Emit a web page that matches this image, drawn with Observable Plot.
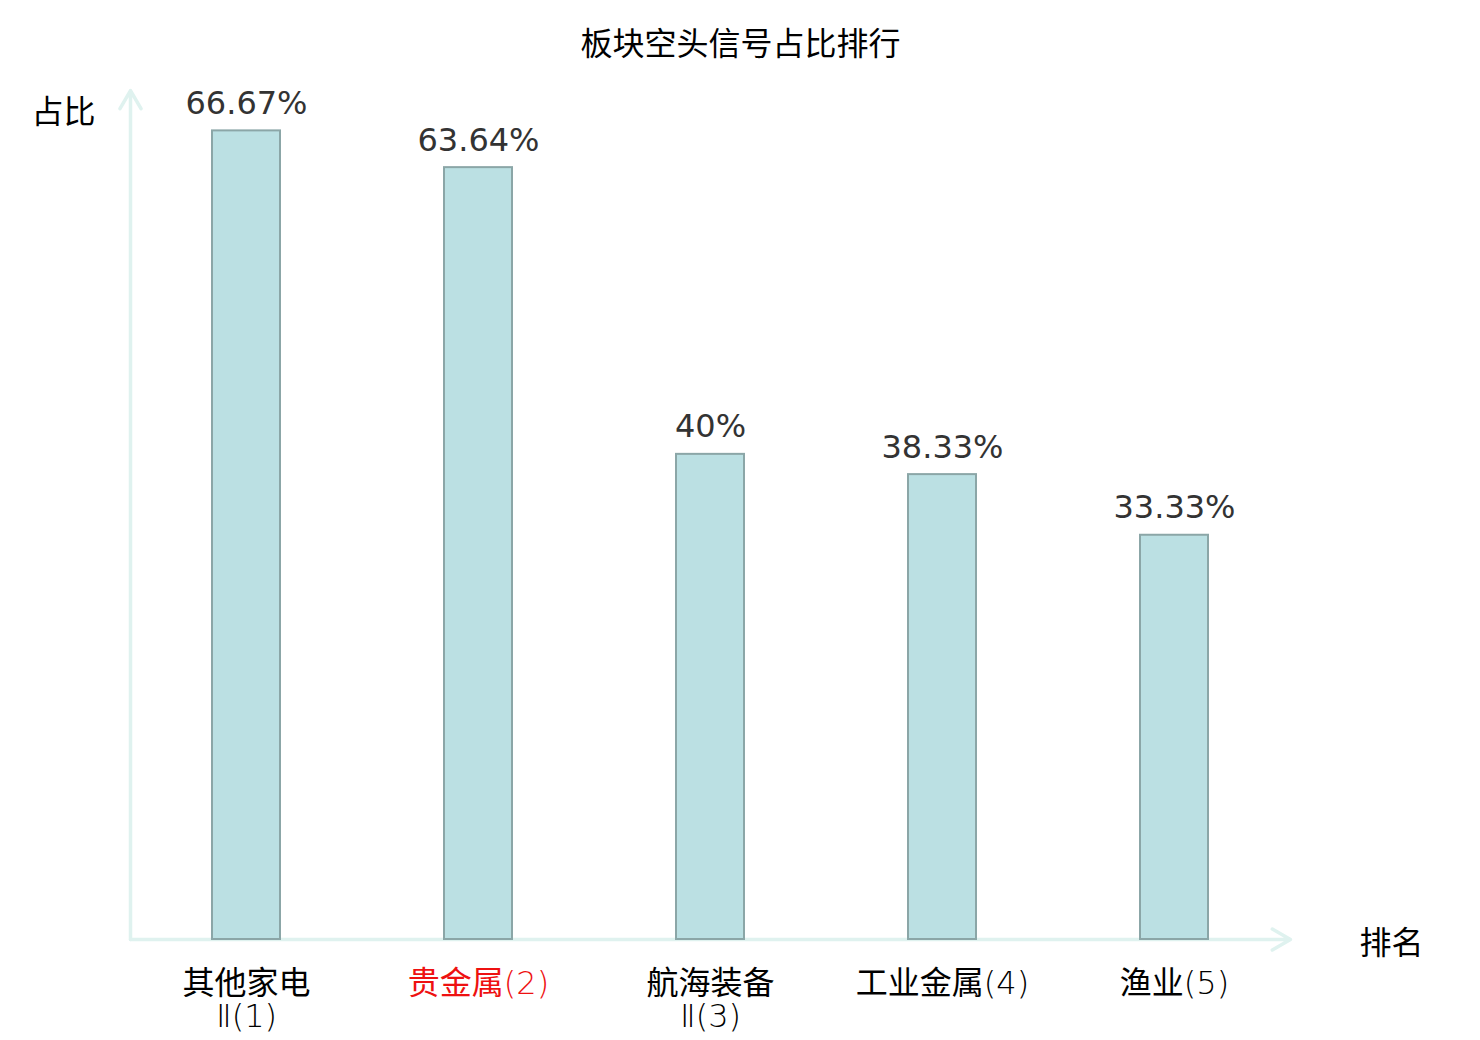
<!DOCTYPE html>
<html>
<head>
<meta charset="utf-8">
<script src="https://cdn.jsdelivr.net/npm/d3@7"></script>
<script src="https://cdn.jsdelivr.net/npm/@observablehq/plot@0.6"></script>
<style>
  html, body { margin: 0; padding: 0; background: #fff; }
  #chart svg { display: block; }
</style>
</head>
<body>
<div id="chart"></div>
<script>
const categories = ["其他家电\nⅡ(1)", "贵金属(2)", "航海装备\nⅡ(3)", "工业金属(4)", "渔业(5)"];
const values = [66.67, 63.64, 40, 38.33, 33.33];
const valueLabels = ["66.67%", "63.64%", "40%", "38.33%", "33.33%"];
const highlighted = ["贵金属(2)"];
const titleText = "板块空头信号占比排行";
const yLabel = "占比";
const xLabel = "排名";

const data = categories.map((c, i) => ({
  i, category: c, value: values[i], label: valueLabels[i],
  hl: highlighted.includes(c)
}));

const xDomain = [-0.5, categories.length - 0.5];
const yDomain = [0, 70];
const axisColor = "#dff2ef";
const cjk = "'Noto Sans CJK SC', 'Noto Sans', sans-serif";
const fs = 32;

const chart = Plot.plot({
  width: 1480,
  height: 1040,
  marginLeft: 130,
  marginRight: 190,
  marginTop: 90,
  marginBottom: 101,
  style: { background: "#fff", fontFamily: cjk },
  x: { type: "linear", domain: xDomain, axis: null },
  y: { domain: yDomain, axis: null },
  marks: [
    // axes with arrowheads
    Plot.arrow([{}], {
      x1: () => xDomain[0], y1: () => yDomain[0],
      x2: () => xDomain[1], y2: () => yDomain[0],
      stroke: axisColor, strokeWidth: 3.5, headLength: 9, headAngle: 60
    }),
    Plot.arrow([{}], {
      x1: () => xDomain[0], y1: () => yDomain[0],
      x2: () => xDomain[0], y2: () => yDomain[1],
      stroke: axisColor, strokeWidth: 3.5, headLength: 9, headAngle: 60
    }),
    // bars
    Plot.rectY(data, {
      x1: d => d.i - 0.5, x2: d => d.i + 0.5, y: "value",
      insetLeft: 82, insetRight: 82,
      fill: "#bbe0e3", stroke: "#8ba6a7", strokeWidth: 2
    }),
    // value labels
    Plot.text(data, {
      x: "i", y: "value", text: "label",
      lineAnchor: "bottom", dy: -17,
      fontSize: fs, fill: "#333333",
      fontFamily: "'DejaVu Sans', sans-serif"
    }),
    // category labels
    Plot.text(data, {
      x: "i", y: () => yDomain[0], text: "category",
      lineAnchor: "top", dy: 31, lineHeight: 1.04,
      fontSize: fs, fill: d => d.hl ? "#ee1111" : "#000000",
      fontFamily: cjk, className: "xlab"
    }),
    // title
    Plot.text([titleText], {
      frameAnchor: "top", dx: 30, dy: -36, lineAnchor: "bottom",
      fontSize: fs, fill: "#000", fontFamily: cjk
    }),
    // y axis label
    Plot.text([yLabel], {
      frameAnchor: "top-left", dx: -67, dy: 32, lineAnchor: "bottom",
      textAnchor: "middle", fontSize: fs, fill: "#000", fontFamily: cjk
    }),
    // x axis label
    Plot.text([xLabel], {
      frameAnchor: "bottom-right", dx: 101, dy: 14, lineAnchor: "bottom",
      textAnchor: "middle", fontSize: fs, fill: "#000", fontFamily: cjk
    })
  ]
});

// Style the Latin parts of category labels (numbers, parentheses, Ⅱ) in a light face
const cjkRun = /([\u3400-\u9fff]+)/;
chart.querySelectorAll("g.xlab text").forEach(t => {
  const holders = t.querySelectorAll("tspan").length ? Array.from(t.querySelectorAll("tspan")) : [t];
  holders.forEach(h => {
    const s = h.textContent;
    while (h.firstChild) h.removeChild(h.firstChild);
    s.split(cjkRun).filter(p => p.length).forEach(p => {
      const span = document.createElementNS("http://www.w3.org/2000/svg", "tspan");
      span.textContent = p;
      if (!cjkRun.test(p)) {
        span.setAttribute("font-family", "'DejaVu Sans', sans-serif");
        span.setAttribute("font-weight", "200");
      }
      h.appendChild(span);
    });
  });
});

document.getElementById("chart").appendChild(chart);
</script>
</body>
</html>
